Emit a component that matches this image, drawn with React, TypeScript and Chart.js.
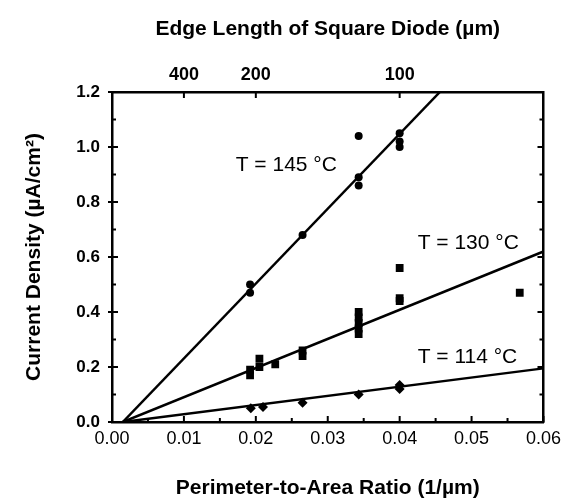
import React, { useEffect, useRef } from "react";
import { Chart, registerables } from "chart.js";
Chart.register(...registerables);

// T = 145 °C (circles)
const t145X = [0.0192, 0.0192, 0.0265, 0.0343, 0.0343, 0.0343, 0.04, 0.04, 0.04];
const t145Y = [0.47, 0.5, 0.68, 0.86, 0.89, 1.04, 1.0, 1.02, 1.05];
// T = 130 °C (squares)
const t130X = [0.0192, 0.0192, 0.0205, 0.0205, 0.0227, 0.0265, 0.0265, 0.0343, 0.0343, 0.0343, 0.0343, 0.0343, 0.04, 0.04, 0.04, 0.0567];
const t130Y = [0.17, 0.19, 0.2, 0.23, 0.21, 0.24, 0.26, 0.32, 0.34, 0.36, 0.38, 0.4, 0.44, 0.45, 0.56, 0.47];
// T = 114 °C (diamonds)
const t114X = [0.0193, 0.021, 0.0265, 0.0343, 0.04, 0.04];
const t114Y = [0.05, 0.055, 0.07, 0.1, 0.12, 0.135];
// fitted lines
const fit145X = [0.0015, 0.0456];
const fit145Y = [0, 1.2];
const fit130X = [0.0015, 0.06];
const fit130Y = [0, 0.62];
const fit114X = [0.0015, 0.06];
const fit114Y = [0, 0.195];
// annotations
const noteText = ["T = 145 °C", "T = 130 °C", "T = 114 °C"];
const noteX = [0.0172, 0.0425, 0.0425];
const noteY = [0.935, 0.65, 0.236];
// top axis (edge length)
const topTickValues = [0.01, 0.02, 0.04];
const topTickLabels = ["400", "200", "100"];

const pts = (xs: number[], ys: number[]) => xs.map((x, i) => ({ x, y: ys[i] }));

const FONT = "Arial, 'Liberation Sans', Helvetica, sans-serif";

const innerTicks = {
  id: "innerTicks",
  afterDatasetsDraw(chart: any) {
    const { ctx, chartArea: a, scales } = chart;
    const xs = scales.x;
    const ys = scales.y;
    const line = (x1: number, y1: number, x2: number, y2: number) => {
      ctx.beginPath();
      ctx.moveTo(x1, y1);
      ctx.lineTo(x2, y2);
      ctx.stroke();
    };
    ctx.save();
    ctx.strokeStyle = "#000";
    ctx.lineWidth = 2;
    for (let i = 0; i <= 12; i++) {
      const py = ys.getPixelForValue(i * 0.1);
      const major = i % 2 === 0;
      const len = major ? 6 : 4;
      line(a.left - (major ? 4 : 0), py, a.left + len, py);
      line(a.right, py, a.right - len, py);
    }
    for (let i = 0; i <= 12; i++) {
      const px = xs.getPixelForValue(i * 0.005);
      const len = i % 2 === 0 ? 6 : 4;
      line(px, a.bottom, px, a.bottom - len);
    }
    for (const v of topTickValues) {
      const px = xs.getPixelForValue(v);
      line(px, a.top, px, a.top + 6);
    }
    ctx.restore();
  },
};

const notes = {
  id: "notes",
  afterDatasetsDraw(chart: any) {
    const { ctx, scales } = chart;
    ctx.save();
    ctx.fillStyle = "#000";
    ctx.font = `21px ${FONT}`;
    ctx.textAlign = "left";
    ctx.textBaseline = "middle";
    noteText.forEach((t, i) => {
      ctx.fillText(t, scales.x.getPixelForValue(noteX[i]), scales.y.getPixelForValue(noteY[i]));
    });
    ctx.restore();
  },
};

export default function App() {
  const ref = useRef<HTMLCanvasElement>(null);
  useEffect(() => {
    if (!ref.current) return;
    const lineDs = (xs: number[], ys: number[]) => ({
      data: pts(xs, ys),
      showLine: true,
      borderColor: "#000",
      borderWidth: 2.5,
      pointRadius: 0,
      fill: false,
      order: 2,
    });
    const ptDs = (xs: number[], ys: number[], style: string, r: number) => ({
      data: pts(xs, ys),
      showLine: false,
      pointStyle: style,
      pointRadius: r,
      pointBackgroundColor: "#000",
      pointBorderColor: "#000",
      pointBorderWidth: 0,
      order: 1,
    });
    const chart = new Chart(ref.current, {
      type: "scatter",
      data: {
        datasets: [
          lineDs(fit145X, fit145Y),
          lineDs(fit130X, fit130Y),
          lineDs(fit114X, fit114Y),
          ptDs(t145X, t145Y, "circle", 4),
          ptDs(t130X, t130Y, "rect", 5.5),
          ptDs(t114X, t114Y, "rectRot", 5),
        ] as any,
      },
      plugins: [innerTicks, notes],
      options: {
        animation: false,
        responsive: false,
        devicePixelRatio: 1,
        layout: { padding: 0 },
        plugins: { legend: { display: false }, tooltip: { enabled: false } },
        scales: {
          x: {
            type: "linear",
            position: "bottom",
            min: 0,
            max: 0.06,
            ticks: {
              stepSize: 0.01,
              color: "#000",
              font: { family: FONT, size: 18 },
              padding: 6,
              callback: (v: any) => Number(v).toFixed(2),
              maxRotation: 0,
            },
            grid: { display: false, drawTicks: false },
            border: { display: true, color: "#000", width: 2.5 },
            title: {
              display: true,
              text: "Perimeter-to-Area Ratio (1/µm)",
              color: "#000",
              font: { family: FONT, size: 21, weight: "bold" },
              padding: { top: 0, bottom: 1 },
            },
            afterFit: (s: any) => { s.height = 80; },
          },
          x2: {
            type: "linear",
            position: "top",
            min: 0,
            max: 0.06,
            afterBuildTicks: (s: any) => { s.ticks = topTickValues.map((v) => ({ value: v })); },
            ticks: {
              autoSkip: false,
              color: "#000",
              font: { family: FONT, size: 18, weight: "bold" },
              padding: 6,
              maxRotation: 0,
              callback: (_v: any, i: number) => topTickLabels[i],
            },
            grid: { display: false, drawTicks: false },
            border: { display: true, color: "#000", width: 2.5 },
            title: {
              display: true,
              text: "Edge Length of Square Diode (µm)",
              color: "#000",
              font: { family: FONT, size: 21, weight: "bold" },
              padding: { top: 17, bottom: 0 },
            },
            afterFit: (s: any) => { s.height = 92; },
          },
          y: {
            type: "linear",
            position: "left",
            min: 0,
            max: 1.2,
            ticks: {
              stepSize: 0.2,
              color: "#000",
              font: { family: FONT, size: 17, weight: "bold" },
              padding: 12,
              callback: (v: any) => Number(v).toFixed(1),
            },
            grid: { display: false, drawTicks: false },
            border: { display: true, color: "#000", width: 2.5 },
            title: {
              display: true,
              text: "Current Density (µA/cm²)",
              color: "#000",
              font: { family: FONT, size: 21, weight: "bold" },
              padding: { top: 22, bottom: 0 },
            },
            afterFit: (s: any) => { s.width = 112; },
          },
          y2: {
            type: "linear",
            position: "right",
            min: 0,
            max: 1.2,
            ticks: { display: false },
            grid: { display: false, drawTicks: false },
            border: { display: true, color: "#000", width: 2.5 },
            afterFit: (s: any) => { s.width = 17; },
          },
        },
      } as any,
    });
    return () => chart.destroy();
  }, []);
  return (
    <div style={{ position: "absolute", left: 0, top: 0, width: 567, height: 502, background: "#fff" }}>
      <canvas ref={ref} width={567} height={502} style={{ width: 567, height: 502, display: "block" }} />
    </div>
  );
}
